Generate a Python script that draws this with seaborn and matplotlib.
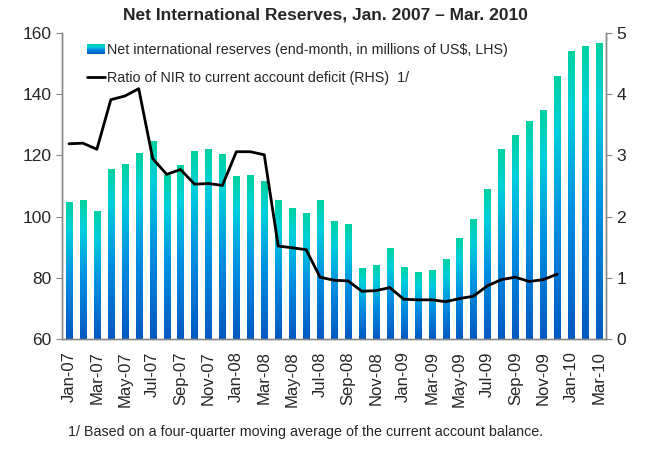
import numpy as np
import pandas as pd
import matplotlib
matplotlib.use("Agg")
import matplotlib.pyplot as plt
import seaborn as sns
from matplotlib.colors import LinearSegmentedColormap
from matplotlib.patches import Rectangle
from matplotlib.legend_handler import HandlerBase
from matplotlib.lines import Line2D

# Monthly data, Jan-2007 .. Mar-2010
months = pd.date_range("2007-01-01", "2010-03-01", freq="MS").strftime("%b-%y").tolist()
reserves = [104.6, 105.1, 101.7, 115.5, 117.1, 120.7, 124.6, 113.5, 116.8, 121.4,
            122.0, 120.4, 113.2, 113.5, 111.5, 105.3, 102.7, 101.0, 105.3, 98.4,
            97.4, 83.0, 84.0, 89.6, 83.4, 81.7, 82.4, 86.0, 92.9, 99.1,
            108.9, 122.0, 126.6, 131.2, 134.8, 145.9, 153.8, 155.7, 156.7]
# Ratio of NIR to current account deficit, available through Dec-09
ratio = [3.19, 3.20, 3.10, 3.91, 3.97, 4.09, 2.95, 2.69, 2.77, 2.53,
         2.54, 2.51, 3.06, 3.06, 3.01, 1.52, 1.49, 1.46, 1.01, 0.96,
         0.95, 0.78, 0.79, 0.84, 0.65, 0.64, 0.64, 0.61, 0.66, 0.70,
         0.87, 0.97, 1.01, 0.94, 0.97, 1.06]

title = "Net International Reserves, Jan. 2007 \u2013 Mar. 2010"
bar_label = "Net international reserves (end-month, in millions of US$, LHS)"
line_label = "Ratio of NIR to current account deficit (RHS)  1/"
footnote = "1/ Based on a four-quarter moving average of the current account balance."

sns.set_style("white")
plt.rcParams["font.family"] = ["Liberation Sans", "DejaVu Sans"]

grad = LinearSegmentedColormap.from_list(
    "nir", [(0.0, "#0058c0"), (0.45, "#0090e2"), (0.8, "#00d0dc"), (1.0, "#00d2a0")])
axis_gray = "#888888"

fig = plt.figure(figsize=(6.46, 4.51), dpi=100)
ax = fig.add_axes([62 / 646, 1 - 339 / 451, 544 / 646, 306 / 451])

df = pd.DataFrame({"month": months, "reserves": reserves})
sns.barplot(data=df, x="month", y="reserves", ax=ax, width=0.44,
            color="#00b8e0", edgecolor="none", linewidth=0)

ymin, ymax = 60, 160
ax.set_ylim(ymin, ymax)
ax.set_xlim(-0.5, len(months) - 0.5)

# Vertical gradient fill inside each bar
gradient = np.linspace(1, 0, 256).reshape(-1, 1)
for p in ax.patches:
    x0, w = p.get_x(), p.get_width()
    top = p.get_height() + p.get_y()
    ax.imshow(gradient, cmap=grad, vmin=0, vmax=1, aspect="auto",
              extent=(x0, x0 + w, ymin, top), zorder=2, interpolation="bicubic")
    p.set_visible(False)
ax.set_ylim(ymin, ymax)
ax.set_xlim(-0.5, len(months) - 0.5)

# Right axis: ratio line
ax2 = ax.twinx()
sns.lineplot(x=np.arange(len(ratio)), y=ratio, ax=ax2, color="black", linewidth=2.0)
ax2.set_ylim(0, 5)
ax2.set_xlim(-0.5, len(months) - 0.5)

# Ticks and labels
ax.set_xticks(np.arange(0, len(months), 2))
ax.set_xticklabels(months[::2], rotation=90, fontsize=12)
ax.set_xticks(np.arange(-0.5, len(months), 2), minor=True)
ax.tick_params(axis="x", which="major", length=0, pad=9)
ax.tick_params(axis="x", which="minor", length=4, color=axis_gray, direction="out")
ax.set_yticks(range(60, 161, 20))
ax.tick_params(axis="y", labelsize=12.5, length=4, color=axis_gray, direction="out", left=True)
ax2.set_yticks(range(0, 6))
ax2.tick_params(axis="y", labelsize=12.5, length=4, color=axis_gray, direction="out", right=True)
ax.set_xlabel("")
ax.set_ylabel("")
ax2.set_ylabel("")

for a in (ax, ax2):
    a.spines["top"].set_visible(False)
    for s in ("left", "right", "bottom"):
        a.spines[s].set_color(axis_gray)
        a.spines[s].set_linewidth(1.0)


class GradientHandler(HandlerBase):
    def create_artists(self, legend, orig_handle, xdescent, ydescent,
                       width, height, fontsize, trans):
        n = 8
        arts = []
        for i in range(n):
            c = grad(1 - i / (n - 1))
            r = Rectangle((-xdescent, -ydescent + height * (1 - (i + 1) / n)),
                          width, height / n, facecolor=c, edgecolor="none",
                          transform=trans)
            arts.append(r)
        return arts


bar_handle = Rectangle((0, 0), 1, 1)
line_handle = Line2D([], [], color="black", linewidth=2.0)
leg = ax2.legend([bar_handle, line_handle], [bar_label, line_label],
                 handler_map={Rectangle: GradientHandler()},
                 loc="upper left", bbox_to_anchor=(0.027, 1.0), frameon=False,
                 fontsize=10.3, handlelength=1.3, handletextpad=0.1,
                 labelspacing=0.95, borderaxespad=0.3)

fig.text(0.503, 1 - 15 / 451, title, ha="center", va="center",
         fontsize=12.5, fontweight="bold")
fig.text(68 / 646, 1 - 432 / 451, footnote, ha="left", va="center",
         fontsize=10.3, family=["Liberation Sans", "DejaVu Sans"])

fig.savefig("out.png", dpi=100)
